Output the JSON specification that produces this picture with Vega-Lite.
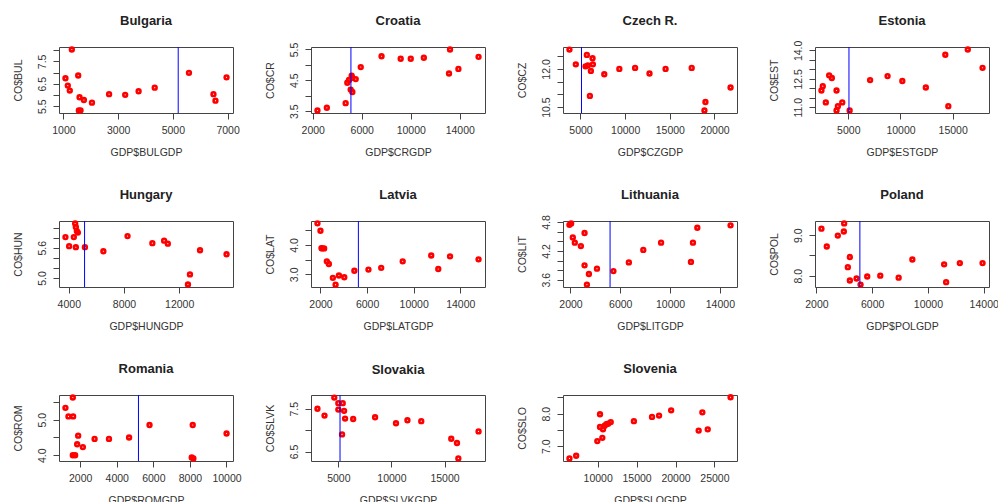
{
"$schema":"https://vega.github.io/schema/vega-lite/v6.json",
"padding":{"left":12,"top":14,"right":0,"bottom":0},
"columns":4,
"bounds":"flush",
"align":"all",
"spacing":{"row":108,"column":78},
"datasets":{
"pts":[
{"c":"Bulgaria","gdp":1307,"co":8.03},{"c":"Bulgaria","gdp":1074,"co":6.75},{"c":"Bulgaria","gdp":1160,"co":6.42},{"c":"Bulgaria","gdp":1233,"co":6.2},{"c":"Bulgaria","gdp":1540,"co":6.87},{"c":"Bulgaria","gdp":1589,"co":5.9},{"c":"Bulgaria","gdp":1748,"co":5.78},{"c":"Bulgaria","gdp":1626,"co":5.32},{"c":"Bulgaria","gdp":1564,"co":5.31},{"c":"Bulgaria","gdp":2043,"co":5.66},{"c":"Bulgaria","gdp":2669,"co":6.04},{"c":"Bulgaria","gdp":3258,"co":6.01},{"c":"Bulgaria","gdp":3748,"co":6.17},{"c":"Bulgaria","gdp":4337,"co":6.33},{"c":"Bulgaria","gdp":5589,"co":6.99},{"c":"Bulgaria","gdp":6485,"co":6.04},{"c":"Bulgaria","gdp":6558,"co":5.75},{"c":"Bulgaria","gdp":6963,"co":6.79},
{"c":"Croatia","gdp":2384,"co":3.52},{"c":"Croatia","gdp":3151,"co":3.61},{"c":"Croatia","gdp":4685,"co":3.76},{"c":"Croatia","gdp":5096,"co":4.2},{"c":"Croatia","gdp":5233,"co":4.12},{"c":"Croatia","gdp":4822,"co":4.42},{"c":"Croatia","gdp":4959,"co":4.51},{"c":"Croatia","gdp":5178,"co":4.65},{"c":"Croatia","gdp":5233,"co":4.58},{"c":"Croatia","gdp":5507,"co":4.54},{"c":"Croatia","gdp":5918,"co":4.93},{"c":"Croatia","gdp":7616,"co":5.28},{"c":"Croatia","gdp":9178,"co":5.2},{"c":"Croatia","gdp":10000,"co":5.2},{"c":"Croatia","gdp":11068,"co":5.23},{"c":"Croatia","gdp":13205,"co":5.5},{"c":"Croatia","gdp":13123,"co":4.72},{"c":"Croatia","gdp":13890,"co":4.87},{"c":"Croatia","gdp":15534,"co":5.26},
{"c":"Czech","gdp":3763,"co":12.76},{"c":"Czech","gdp":4475,"co":12.18},{"c":"Czech","gdp":5712,"co":12.55},{"c":"Czech","gdp":6350,"co":12.42},{"c":"Czech","gdp":6387,"co":12.18},{"c":"Czech","gdp":5562,"co":12.1},{"c":"Czech","gdp":5825,"co":12.14},{"c":"Czech","gdp":6162,"co":11.92},{"c":"Czech","gdp":6050,"co":10.94},{"c":"Czech","gdp":7662,"co":11.79},{"c":"Czech","gdp":9349,"co":12.0},{"c":"Czech","gdp":11112,"co":12.04},{"c":"Czech","gdp":12724,"co":11.82},{"c":"Czech","gdp":14524,"co":12.0},{"c":"Czech","gdp":17448,"co":12.04},{"c":"Czech","gdp":18986,"co":10.7},{"c":"Czech","gdp":18873,"co":10.37},{"c":"Czech","gdp":21798,"co":11.27},
{"c":"Estonia","gdp":2428,"co":11.88},{"c":"Estonia","gdp":2556,"co":12.11},{"c":"Estonia","gdp":2846,"co":11.25},{"c":"Estonia","gdp":3167,"co":12.68},{"c":"Estonia","gdp":3424,"co":12.54},{"c":"Estonia","gdp":3875,"co":11.88},{"c":"Estonia","gdp":3875,"co":10.82},{"c":"Estonia","gdp":4003,"co":11.05},{"c":"Estonia","gdp":4421,"co":11.25},{"c":"Estonia","gdp":5129,"co":10.82},{"c":"Estonia","gdp":7090,"co":12.43},{"c":"Estonia","gdp":8762,"co":12.64},{"c":"Estonia","gdp":10177,"co":12.38},{"c":"Estonia","gdp":12428,"co":12.04},{"c":"Estonia","gdp":14293,"co":13.77},{"c":"Estonia","gdp":14582,"co":11.05},{"c":"Estonia","gdp":16447,"co":14.05},{"c":"Estonia","gdp":17862,"co":13.08},
{"c":"Hungary","gdp":3757,"co":5.81},{"c":"Hungary","gdp":4024,"co":5.63},{"c":"Hungary","gdp":4365,"co":5.81},{"c":"Hungary","gdp":4462,"co":6.08},{"c":"Hungary","gdp":4511,"co":6.01},{"c":"Hungary","gdp":4584,"co":5.93},{"c":"Hungary","gdp":4657,"co":5.9},{"c":"Hungary","gdp":4511,"co":5.61},{"c":"Hungary","gdp":5168,"co":5.61},{"c":"Hungary","gdp":6506,"co":5.53},{"c":"Hungary","gdp":8258,"co":5.83},{"c":"Hungary","gdp":10058,"co":5.69},{"c":"Hungary","gdp":10910,"co":5.74},{"c":"Hungary","gdp":11178,"co":5.68},{"c":"Hungary","gdp":12783,"co":5.07},{"c":"Hungary","gdp":12637,"co":4.87},{"c":"Hungary","gdp":13513,"co":5.55},{"c":"Hungary","gdp":15436,"co":5.47},
{"c":"Latvia","gdp":1741,"co":4.73},{"c":"Latvia","gdp":2000,"co":4.48},{"c":"Latvia","gdp":2086,"co":3.89},{"c":"Latvia","gdp":2317,"co":3.88},{"c":"Latvia","gdp":2144,"co":3.88},{"c":"Latvia","gdp":2548,"co":3.44},{"c":"Latvia","gdp":2721,"co":3.35},{"c":"Latvia","gdp":3066,"co":2.88},{"c":"Latvia","gdp":3297,"co":2.65},{"c":"Latvia","gdp":3585,"co":2.96},{"c":"Latvia","gdp":4046,"co":2.9},{"c":"Latvia","gdp":4911,"co":3.12},{"c":"Latvia","gdp":6121,"co":3.16},{"c":"Latvia","gdp":7216,"co":3.22},{"c":"Latvia","gdp":9061,"co":3.44},{"c":"Latvia","gdp":11510,"co":3.64},{"c":"Latvia","gdp":12115,"co":3.18},{"c":"Latvia","gdp":13124,"co":3.61},{"c":"Latvia","gdp":15573,"co":3.51},
{"c":"Lithuania","gdp":1919,"co":4.74},{"c":"Lithuania","gdp":2054,"co":4.77},{"c":"Lithuania","gdp":2189,"co":4.48},{"c":"Lithuania","gdp":2350,"co":4.37},{"c":"Lithuania","gdp":2836,"co":4.3},{"c":"Lithuania","gdp":3132,"co":4.57},{"c":"Lithuania","gdp":3132,"co":3.9},{"c":"Lithuania","gdp":3321,"co":3.5},{"c":"Lithuania","gdp":3482,"co":3.72},{"c":"Lithuania","gdp":4129,"co":3.83},{"c":"Lithuania","gdp":5450,"co":3.78},{"c":"Lithuania","gdp":6690,"co":3.96},{"c":"Lithuania","gdp":7849,"co":4.22},{"c":"Lithuania","gdp":9278,"co":4.37},{"c":"Lithuania","gdp":11677,"co":3.97},{"c":"Lithuania","gdp":11838,"co":4.37},{"c":"Lithuania","gdp":12189,"co":4.68},{"c":"Lithuania","gdp":14857,"co":4.73},
{"c":"Poland","gdp":2360,"co":9.16},{"c":"Poland","gdp":2743,"co":8.72},{"c":"Poland","gdp":3535,"co":8.99},{"c":"Poland","gdp":3967,"co":9.09},{"c":"Poland","gdp":3990,"co":9.29},{"c":"Poland","gdp":4398,"co":8.46},{"c":"Poland","gdp":4254,"co":8.21},{"c":"Poland","gdp":4398,"co":7.88},{"c":"Poland","gdp":4878,"co":7.93},{"c":"Poland","gdp":5166,"co":7.78},{"c":"Poland","gdp":5645,"co":7.98},{"c":"Poland","gdp":6581,"co":8.0},{"c":"Poland","gdp":7899,"co":7.95},{"c":"Poland","gdp":8882,"co":8.4},{"c":"Poland","gdp":11160,"co":8.28},{"c":"Poland","gdp":11305,"co":7.84},{"c":"Poland","gdp":12288,"co":8.31},{"c":"Poland","gdp":13918,"co":8.31},
{"c":"Romania","gdp":1194,"co":5.33},{"c":"Romania","gdp":1359,"co":5.09},{"c":"Romania","gdp":1615,"co":5.09},{"c":"Romania","gdp":1597,"co":5.62},{"c":"Romania","gdp":1890,"co":4.55},{"c":"Romania","gdp":1835,"co":4.31},{"c":"Romania","gdp":2147,"co":4.23},{"c":"Romania","gdp":1597,"co":4.0},{"c":"Romania","gdp":1725,"co":4.0},{"c":"Romania","gdp":2788,"co":4.46},{"c":"Romania","gdp":3575,"co":4.46},{"c":"Romania","gdp":4674,"co":4.5},{"c":"Romania","gdp":5791,"co":4.85},{"c":"Romania","gdp":8099,"co":3.94},{"c":"Romania","gdp":8190,"co":3.91},{"c":"Romania","gdp":8154,"co":4.85},{"c":"Romania","gdp":10004,"co":4.61},
{"c":"Slovakia","gdp":3032,"co":7.5},{"c":"Slovakia","gdp":3698,"co":7.34},{"c":"Slovakia","gdp":4619,"co":7.76},{"c":"Slovakia","gdp":5000,"co":7.63},{"c":"Slovakia","gdp":5000,"co":7.48},{"c":"Slovakia","gdp":5413,"co":7.63},{"c":"Slovakia","gdp":5540,"co":7.45},{"c":"Slovakia","gdp":5635,"co":7.27},{"c":"Slovakia","gdp":5349,"co":6.9},{"c":"Slovakia","gdp":6397,"co":7.26},{"c":"Slovakia","gdp":8460,"co":7.3},{"c":"Slovakia","gdp":10429,"co":7.16},{"c":"Slovakia","gdp":11508,"co":7.23},{"c":"Slovakia","gdp":12810,"co":7.21},{"c":"Slovakia","gdp":15635,"co":6.8},{"c":"Slovakia","gdp":16175,"co":6.7},{"c":"Slovakia","gdp":16302,"co":6.34},{"c":"Slovakia","gdp":18206,"co":6.97},
{"c":"Slovenia","gdp":6379,"co":6.63},{"c":"Slovenia","gdp":7241,"co":6.71},{"c":"Slovenia","gdp":10302,"co":7.98},{"c":"Slovenia","gdp":10302,"co":7.59},{"c":"Slovenia","gdp":10690,"co":7.52},{"c":"Slovenia","gdp":10905,"co":7.63},{"c":"Slovenia","gdp":11121,"co":7.68},{"c":"Slovenia","gdp":11336,"co":7.69},{"c":"Slovenia","gdp":11681,"co":7.74},{"c":"Slovenia","gdp":9957,"co":7.16},{"c":"Slovenia","gdp":10603,"co":7.26},{"c":"Slovenia","gdp":14655,"co":7.77},{"c":"Slovenia","gdp":16983,"co":7.9},{"c":"Slovenia","gdp":17888,"co":7.94},{"c":"Slovenia","gdp":19440,"co":8.1},{"c":"Slovenia","gdp":23448,"co":8.04},{"c":"Slovenia","gdp":22974,"co":7.48},{"c":"Slovenia","gdp":24138,"co":7.52},{"c":"Slovenia","gdp":27069,"co":8.5}
],
"lines":[
{"c":"Bulgaria","gdp":5196},{"c":"Croatia","gdp":5117},{"c":"Czech","gdp":5112},{"c":"Estonia","gdp":5064},{"c":"Hungary","gdp":5143},{"c":"Latvia","gdp":5256},{"c":"Lithuania","gdp":5181},{"c":"Poland","gdp":5118},{"c":"Romania","gdp":5187},{"c":"Slovakia","gdp":5159}
]
},
"concat":[
{"title":"Bulgaria","width":174,"height":66,"layer":[
 {"data":{"name":"pts"},"transform":[{"filter":"datum.c==='Bulgaria'"}],"mark":{"type":"point","shape":"circle","filled":false,"color":"#ff0000","strokeWidth":2.6,"size":14,"opacity":1},
  "encoding":{"x":{"field":"gdp","type":"quantitative","scale":{"domain":[838,7199],"nice":false,"zero":false},"axis":{"title":"GDP$BULGDP","values":[1000,2000,3000,4000,5000,6000,7000],"format":"d","labelExpr":"indexof([1000,3000,5000,7000],datum.value)>=0?datum.label:''"}},
  "y":{"field":"co","type":"quantitative","scale":{"domain":[5.2,8.14],"nice":false,"zero":false},"axis":{"title":"CO$BUL","values":[5.5,6,6.5,7,7.5,8],"format":".1f","labelExpr":"indexof([5.5,6.5,7.5],datum.value)>=0?datum.label:''"}}}},
 {"data":{"name":"lines"},"transform":[{"filter":"datum.c==='Bulgaria'"}],"mark":{"type":"rule","color":"#0000ff","strokeWidth":1},"encoding":{"x":{"field":"gdp","type":"quantitative","title":"GDP$BULGDP"}}}
]},
{"title":"Croatia","width":174,"height":66,"layer":[
 {"data":{"name":"pts"},"transform":[{"filter":"datum.c==='Croatia'"}],"mark":{"type":"point","shape":"circle","filled":false,"color":"#ff0000","strokeWidth":2.6,"size":14,"opacity":1},
  "encoding":{"x":{"field":"gdp","type":"quantitative","scale":{"domain":[1858,16060],"nice":false,"zero":false},"axis":{"title":"GDP$CRGDP","values":[2000,4000,6000,8000,10000,12000,14000,16000],"format":"d","labelExpr":"indexof([2000,6000,10000,14000],datum.value)>=0?datum.label:''"}},
  "y":{"field":"co","type":"quantitative","scale":{"domain":[3.44,5.58],"nice":false,"zero":false},"axis":{"title":"CO$CR","values":[3.5,4,4.5,5,5.5],"format":".1f","labelExpr":"indexof([3.5,4.5,5.5],datum.value)>=0?datum.label:''"}}}},
 {"data":{"name":"lines"},"transform":[{"filter":"datum.c==='Croatia'"}],"mark":{"type":"rule","color":"#0000ff","strokeWidth":1},"encoding":{"x":{"field":"gdp","type":"quantitative","title":"GDP$CRGDP"}}}
]},
{"title":"Czech R.","width":174,"height":66,"layer":[
 {"data":{"name":"pts"},"transform":[{"filter":"datum.c==='Czech'"}],"mark":{"type":"point","shape":"circle","filled":false,"color":"#ff0000","strokeWidth":2.6,"size":14,"opacity":1},
  "encoding":{"x":{"field":"gdp","type":"quantitative","scale":{"domain":[3042,22519],"nice":false,"zero":false},"axis":{"title":"GDP$CZGDP","values":[5000,10000,15000,20000],"format":"d"}},
  "y":{"field":"co","type":"quantitative","scale":{"domain":[10.27,12.86],"nice":false,"zero":false},"axis":{"title":"CO$CZ","values":[10.5,11,11.5,12,12.5],"format":".1f","labelExpr":"indexof([10.5,12],datum.value)>=0?datum.label:''"}}}},
 {"data":{"name":"lines"},"transform":[{"filter":"datum.c==='Czech'"}],"mark":{"type":"rule","color":"#0000ff","strokeWidth":1},"encoding":{"x":{"field":"gdp","type":"quantitative","title":"GDP$CZGDP"}}}
]},
{"title":{"text":"Estonia","offset":12},"width":174,"height":66,"layer":[
 {"data":{"name":"pts"},"transform":[{"filter":"datum.c==='Estonia'"}],"mark":{"type":"point","shape":"circle","filled":false,"color":"#ff0000","strokeWidth":2.6,"size":14,"opacity":1},
  "encoding":{"x":{"field":"gdp","type":"quantitative","scale":{"domain":[1811,18479],"nice":false,"zero":false},"axis":{"title":"GDP$ESTGDP","values":[5000,10000,15000],"format":"d"}},
  "y":{"field":"co","type":"quantitative","scale":{"domain":[10.69,14.18],"nice":false,"zero":false},"axis":{"title":"CO$EST","values":[11,11.5,12,12.5,13,13.5,14],"format":".1f","labelExpr":"indexof([11,12.5,14],datum.value)>=0?datum.label:''"}}}},
 {"data":{"name":"lines"},"transform":[{"filter":"datum.c==='Estonia'"}],"mark":{"type":"rule","color":"#0000ff","strokeWidth":1},"encoding":{"x":{"field":"gdp","type":"quantitative","title":"GDP$ESTGDP"}}}
]},
{"title":"Hungary","width":174,"height":66,"layer":[
 {"data":{"name":"pts"},"transform":[{"filter":"datum.c==='Hungary'"}],"mark":{"type":"point","shape":"circle","filled":false,"color":"#ff0000","strokeWidth":2.6,"size":14,"opacity":1},
  "encoding":{"x":{"field":"gdp","type":"quantitative","scale":{"domain":[3290,15903],"nice":false,"zero":false},"axis":{"title":"GDP$HUNGDP","values":[4000,6000,8000,10000,12000,14000],"format":"d","labelExpr":"indexof([4000,8000,12000],datum.value)>=0?datum.label:''"}},
  "y":{"field":"co","type":"quantitative","scale":{"domain":[4.82,6.13],"nice":false,"zero":false},"axis":{"title":"CO$HUN","values":[5,5.2,5.4,5.6,5.8,6],"format":".1f","labelExpr":"indexof([5,5.6],datum.value)>=0?datum.label:''"}}}},
 {"data":{"name":"lines"},"transform":[{"filter":"datum.c==='Hungary'"}],"mark":{"type":"rule","color":"#0000ff","strokeWidth":1},"encoding":{"x":{"field":"gdp","type":"quantitative","title":"GDP$HUNGDP"}}}
]},
{"title":"Latvia","width":174,"height":66,"layer":[
 {"data":{"name":"pts"},"transform":[{"filter":"datum.c==='Latvia'"}],"mark":{"type":"point","shape":"circle","filled":false,"color":"#ff0000","strokeWidth":2.6,"size":14,"opacity":1},
  "encoding":{"x":{"field":"gdp","type":"quantitative","scale":{"domain":[1188,16126],"nice":false,"zero":false},"axis":{"title":"GDP$LATGDP","values":[2000,4000,6000,8000,10000,12000,14000,16000],"format":"d","labelExpr":"indexof([2000,6000,10000,14000],datum.value)>=0?datum.label:''"}},
  "y":{"field":"co","type":"quantitative","scale":{"domain":[2.57,4.81],"nice":false,"zero":false},"axis":{"title":"CO$LAT","values":[3,3.5,4,4.5],"format":".1f","labelExpr":"indexof([3,4],datum.value)>=0?datum.label:''"}}}},
 {"data":{"name":"lines"},"transform":[{"filter":"datum.c==='Latvia'"}],"mark":{"type":"rule","color":"#0000ff","strokeWidth":1},"encoding":{"x":{"field":"gdp","type":"quantitative","title":"GDP$LATGDP"}}}
]},
{"title":{"text":"Lithuania","offset":13},"width":174,"height":66,"layer":[
 {"data":{"name":"pts"},"transform":[{"filter":"datum.c==='Lithuania'"}],"mark":{"type":"point","shape":"circle","filled":false,"color":"#ff0000","strokeWidth":2.6,"size":14,"opacity":1},
  "encoding":{"x":{"field":"gdp","type":"quantitative","scale":{"domain":[1401,15375],"nice":false,"zero":false},"axis":{"title":"GDP$LITGDP","values":[2000,4000,6000,8000,10000,12000,14000],"format":"d","labelExpr":"indexof([2000,6000,10000,14000],datum.value)>=0?datum.label:''"}},
  "y":{"field":"co","type":"quantitative","scale":{"domain":[3.45,4.82],"nice":false,"zero":false},"axis":{"title":"CO$LIT","values":[3.6,3.8,4,4.2,4.4,4.6,4.8],"format":".1f","labelExpr":"indexof([3.6,4.2,4.8],datum.value)>=0?datum.label:''"}}}},
 {"data":{"name":"lines"},"transform":[{"filter":"datum.c==='Lithuania'"}],"mark":{"type":"rule","color":"#0000ff","strokeWidth":1},"encoding":{"x":{"field":"gdp","type":"quantitative","title":"GDP$LITGDP"}}}
]},
{"title":"Poland","width":174,"height":66,"layer":[
 {"data":{"name":"pts"},"transform":[{"filter":"datum.c==='Poland'"}],"mark":{"type":"point","shape":"circle","filled":false,"color":"#ff0000","strokeWidth":2.6,"size":14,"opacity":1},
  "encoding":{"x":{"field":"gdp","type":"quantitative","scale":{"domain":[1898,14380],"nice":false,"zero":false},"axis":{"title":"GDP$POLGDP","values":[2000,4000,6000,8000,10000,12000,14000],"format":"d","labelExpr":"indexof([2000,6000,10000,14000],datum.value)>=0?datum.label:''"}},
  "y":{"field":"co","type":"quantitative","scale":{"domain":[7.72,9.35],"nice":false,"zero":false},"axis":{"title":"CO$POL","values":[8,8.5,9],"format":".1f","labelExpr":"indexof([8,9],datum.value)>=0?datum.label:''"}}}},
 {"data":{"name":"lines"},"transform":[{"filter":"datum.c==='Poland'"}],"mark":{"type":"rule","color":"#0000ff","strokeWidth":1},"encoding":{"x":{"field":"gdp","type":"quantitative","title":"GDP$POLGDP"}}}
]},
{"title":"Romania","width":174,"height":66,"layer":[
 {"data":{"name":"pts"},"transform":[{"filter":"datum.c==='Romania'"}],"mark":{"type":"point","shape":"circle","filled":false,"color":"#ff0000","strokeWidth":2.6,"size":14,"opacity":1},
  "encoding":{"x":{"field":"gdp","type":"quantitative","scale":{"domain":[842,10356],"nice":false,"zero":false},"axis":{"title":"GDP$ROMGDP","values":[2000,4000,6000,8000,10000],"format":"d"}},
  "y":{"field":"co","type":"quantitative","scale":{"domain":[3.84,5.69],"nice":false,"zero":false},"axis":{"title":"CO$ROM","values":[4,4.5,5,5.5],"format":".1f","labelExpr":"indexof([4,5],datum.value)>=0?datum.label:''"}}}},
 {"data":{"name":"lines"},"transform":[{"filter":"datum.c==='Romania'"}],"mark":{"type":"rule","color":"#0000ff","strokeWidth":1},"encoding":{"x":{"field":"gdp","type":"quantitative","title":"GDP$ROMGDP"}}}
]},
{"title":"Slovakia","width":174,"height":66,"layer":[
 {"data":{"name":"pts"},"transform":[{"filter":"datum.c==='Slovakia'"}],"mark":{"type":"point","shape":"circle","filled":false,"color":"#ff0000","strokeWidth":2.6,"size":14,"opacity":1},
  "encoding":{"x":{"field":"gdp","type":"quantitative","scale":{"domain":[2425,18813],"nice":false,"zero":false},"axis":{"title":"GDP$SLVKGDP","values":[5000,10000,15000],"format":"d"}},
  "y":{"field":"co","type":"quantitative","scale":{"domain":[6.28,7.82],"nice":false,"zero":false},"axis":{"title":"CO$SLVK","values":[6.5,7,7.5],"format":".1f","labelExpr":"indexof([6.5,7.5],datum.value)>=0?datum.label:''"}}}},
 {"data":{"name":"lines"},"transform":[{"filter":"datum.c==='Slovakia'"}],"mark":{"type":"rule","color":"#0000ff","strokeWidth":1},"encoding":{"x":{"field":"gdp","type":"quantitative","title":"GDP$SLVKGDP"}}}
]},
{"title":"Slovenia","width":174,"height":66,"layer":[
 {"data":{"name":"pts"},"transform":[{"filter":"datum.c==='Slovenia'"}],"mark":{"type":"point","shape":"circle","filled":false,"color":"#ff0000","strokeWidth":2.6,"size":14,"opacity":1},
  "encoding":{"x":{"field":"gdp","type":"quantitative","scale":{"domain":[5551,27897],"nice":false,"zero":false},"axis":{"title":"GDP$SLOGDP","values":[10000,15000,20000,25000],"format":"d"}},
  "y":{"field":"co","type":"quantitative","scale":{"domain":[6.55,8.57],"nice":false,"zero":false},"axis":{"title":"CO$SLO","values":[7,7.5,8,8.5],"format":".1f","labelExpr":"indexof([7,8],datum.value)>=0?datum.label:''"}}}}
]}
],
"config":{
 "font":"Liberation Sans",
 "background":"#ffffff",
 "view":{"stroke":"#444444","strokeWidth":1},
 "axis":{"domain":false,"grid":false,"ticks":true,"tickSize":6,"tickColor":"#444444","labelFontSize":10.5,"labelColor":"#333333","titleFontSize":10.5,"titleFontWeight":"normal","titleColor":"#333333","labelOverlap":false,"labelFlush":false},
 "axisX":{"labelPadding":6,"titlePadding":12},
 "axisY":{"labelAngle":-90,"labelAlign":"center","labelBaseline":"bottom","labelPadding":6,"titlePadding":14},
 "title":{"fontSize":13,"fontWeight":"bold","color":"#222222","offset":14}
}
}
